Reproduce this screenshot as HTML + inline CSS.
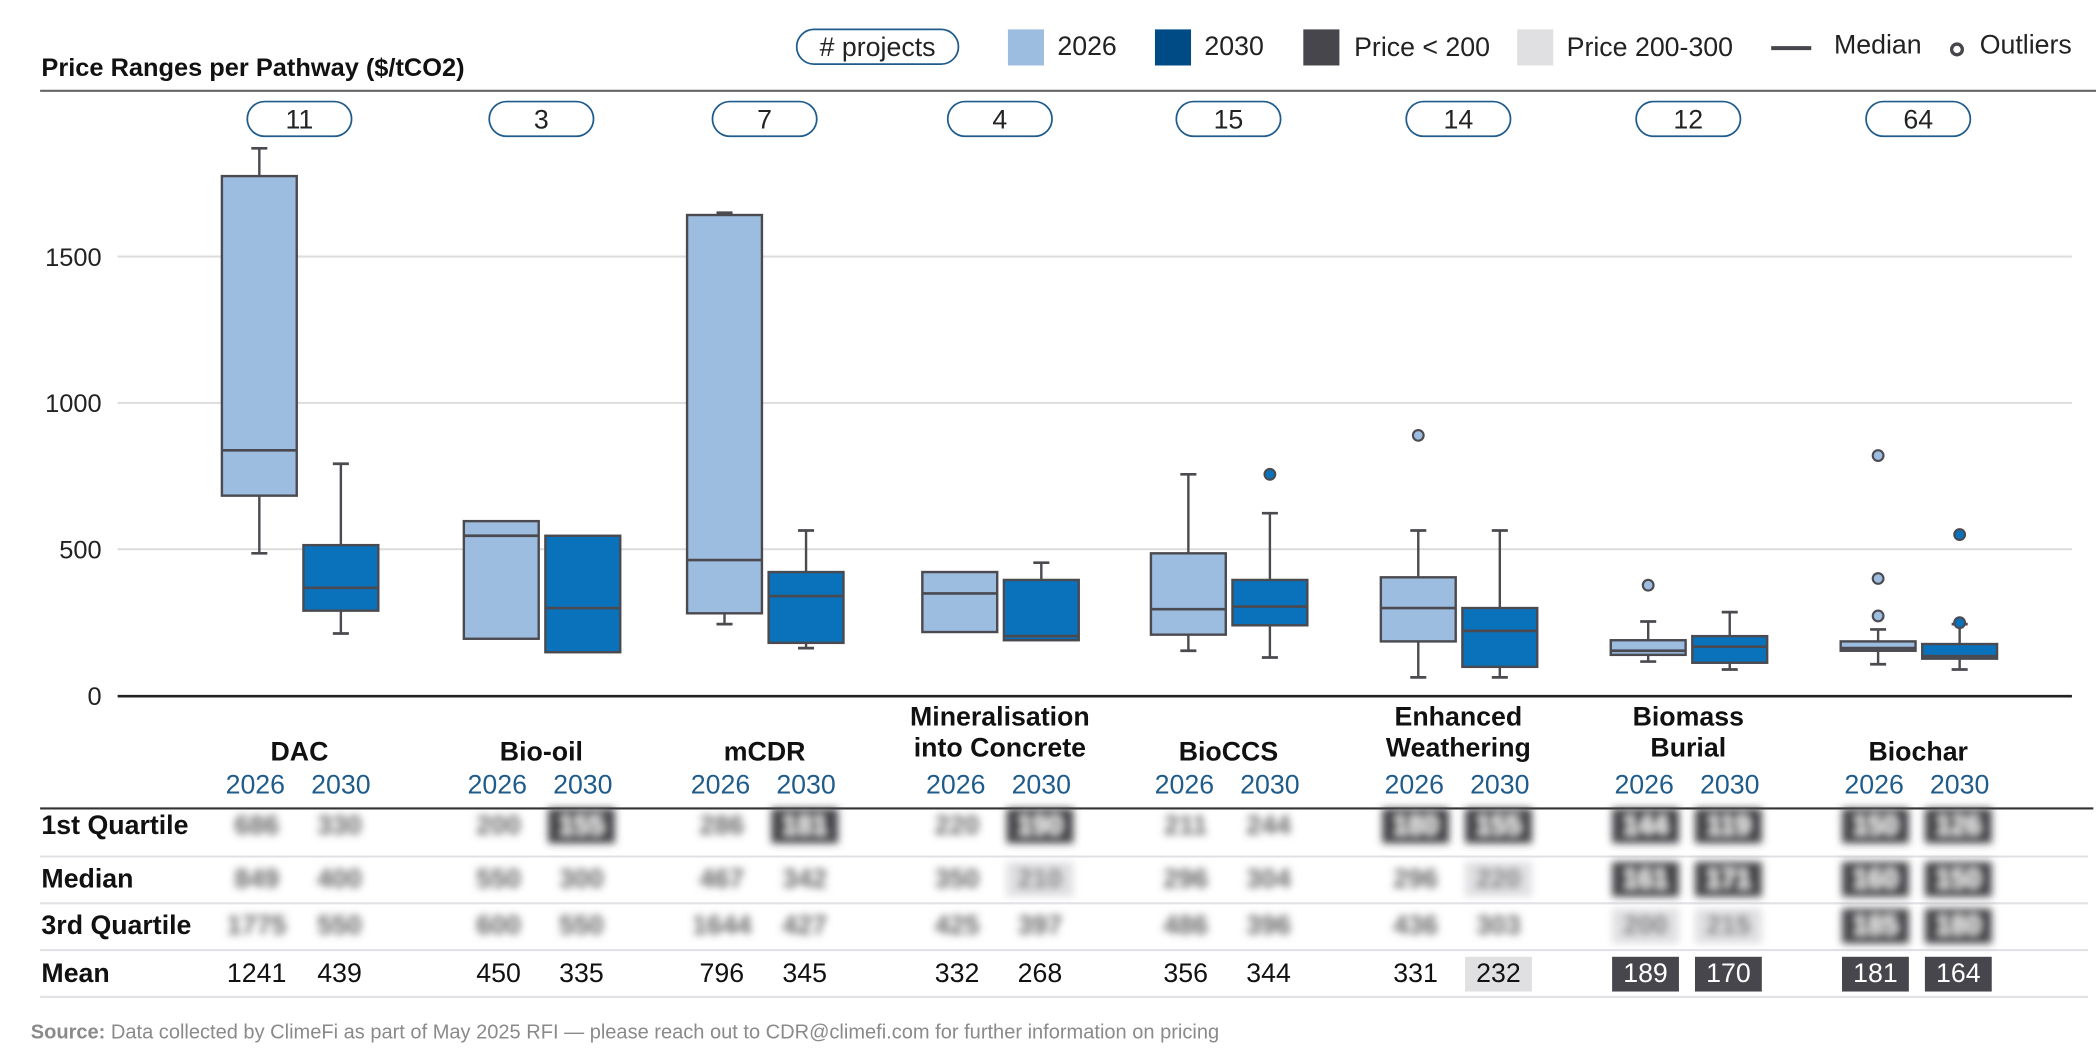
<!DOCTYPE html>
<html><head><meta charset="utf-8">
<style>
html,body{margin:0;padding:0;background:#fff;}
svg{display:block;font-family:"Liberation Sans",Arial,sans-serif;}
</style></head>
<body>
<svg id="chart" width="2096" height="1053" viewBox="0 0 1568 788" preserveAspectRatio="none" xmlns="http://www.w3.org/2000/svg">
<defs><filter id="blur" x="-30%" y="-50%" width="160%" height="200%"><feGaussianBlur stdDeviation="3"/></filter></defs>
<text x="31" y="57" font-size="19" font-weight="bold" fill="#111">Price Ranges per Pathway ($/tCO2)</text>
<g font-size="20" fill="#222">
  <rect x="596" y="22" width="121" height="26" rx="13" fill="#fff" stroke="#1f5c8c" stroke-width="1.3"/>
  <text x="656.5" y="42" text-anchor="middle"># projects</text>
  <rect x="754" y="22" width="27" height="27" fill="#9dbde0"/>
  <text x="791" y="41">2026</text>
  <rect x="864" y="22" width="27" height="27" fill="#004a86"/>
  <text x="901" y="41">2030</text>
  <rect x="975" y="22" width="27" height="27" fill="#46464c"/>
  <text x="1013" y="42">Price &lt; 200</text>
  <rect x="1135" y="22" width="27" height="27" fill="#e0e0e3"/>
  <text x="1172" y="42">Price 200-300</text>
  <line x1="1325" y1="36" x2="1355" y2="36" stroke="#46464c" stroke-width="3"/>
  <text x="1372" y="40">Median</text>
  <circle cx="1464" cy="37" r="4" fill="#fff" stroke="#46464c" stroke-width="2.5"/>
  <text x="1481" y="40">Outliers</text>
</g>
<line x1="30" y1="68" x2="1568" y2="68" stroke="#666" stroke-width="1.6"/>
<g id="plot"></g>
<text x="23" y="777" font-size="15" fill="#8a8a8a"><tspan font-weight="bold">Source:</tspan> Data collected by ClimeFi as part of May 2025 RFI — please reach out to CDR@climefi.com for further information on pricing</text>
</svg>
<script>
const categories = [["DAC"],["Bio-oil"],["mCDR"],["Mineralisation","into Concrete"],["BioCCS"],["Enhanced","Weathering"],["Biomass","Burial"],["Biochar"]];
const projectCounts = [11,3,7,4,15,14,12,64];
// [whiskerLow, q1, median, q3, whiskerHigh] per category; null whisker = none
const box2026 = [[486,683,838,1775,1870],[null,194,546,596,null],[244,281,463,1642,1650],[null,217,349,422,null],[153,208,295,486,756],[62,185,299,404,564],[116,139,153,189,253],[107,153,162,185,226]];
const box2030 = [[212,290,368,514,792],[null,148,299,546,null],[162,180,340,422,564],[null,189,203,395,454],[130,240,304,395,623],[62,98,221,299,564],[89,112,167,203,285],[89,126,135,176,244]];
const outliers2026 = [[],[],[],[],[],[889],[377],[820,400,272]];
const outliers2030 = [[],[],[],[],[756],[],[],[550,249]];
const q1Row = [[686,330],[200,155],[286,181],[220,190],[211,244],[180,155],[144,119],[150,126]];
const medRow = [[849,400],[550,300],[467,342],[350,210],[296,304],[296,220],[161,171],[160,150]];
const q3Row = [[1775,550],[600,550],[1644,427],[425,397],[486,396],[436,303],[200,215],[185,180]];
const meanRow = [[1241,439],[450,335],[796,345],[332,268],[356,344],[331,232],[189,170],[181,164]];
const q1Shade = [["",""],["","low"],["","low"],["","low"],["",""],["low","low"],["low","low"],["low","low"]];
const medShade = [["",""],["",""],["",""],["","mid"],["",""],["","mid"],["low","low"],["low","low"]];
const q3Shade = [["",""],["",""],["",""],["",""],["",""],["",""],["mid","mid"],["low","low"]];
const meanShade = [["",""],["",""],["",""],["",""],["",""],["","mid"],["low","low"],["low","low"]];
const yTicks = [0,500,1000,1500];

const NS="http://www.w3.org/2000/svg";
const plot=document.getElementById('plot');
const centers=[224,405,572,748,919,1091,1263,1435];
const yS=v=>520.5-v*0.219;
function mk(tag,attrs,parent,text){const e=document.createElementNS(NS,tag);for(const k in attrs)e.setAttribute(k,attrs[k]);if(text!==undefined)e.textContent=text;(parent||plot).appendChild(e);return e;}

yTicks.forEach(t=>{
  if(t>0){const g=mk('line',{x1:88,x2:1550,y1:yS(t),y2:yS(t),stroke:'#dedede','stroke-width':1.6});
  
  }
  const l=mk('text',{x:76,y:yS(t)+7,'text-anchor':'end','font-size':19,fill:'#222'},plot,String(t));
  
  
});
const ax=mk('line',{x1:88,x2:1550,y1:521,y2:521,stroke:'#222','stroke-width':2});



function drawBox(cx,b,fill,out,name){
  const w=56,x=cx-w/2,st='#4a4a50';
  const g=mk('g',{});
  
  
  if(b[4]!=null){mk('line',{x1:cx,x2:cx,y1:yS(b[4]),y2:yS(b[3]),stroke:st,'stroke-width':1.8},g);mk('line',{x1:cx-6,x2:cx+6,y1:yS(b[4]),y2:yS(b[4]),stroke:st,'stroke-width':2},g);}
  if(b[0]!=null){mk('line',{x1:cx,x2:cx,y1:yS(b[1]),y2:yS(b[0]),stroke:st,'stroke-width':1.8},g);mk('line',{x1:cx-6,x2:cx+6,y1:yS(b[0]),y2:yS(b[0]),stroke:st,'stroke-width':2},g);}
  mk('rect',{x:x,y:yS(b[3]),width:w,height:yS(b[1])-yS(b[3]),fill:fill,stroke:st,'stroke-width':1.8},g);
  mk('line',{x1:x,x2:x+w,y1:yS(b[2]),y2:yS(b[2]),stroke:st,'stroke-width':2},g);
  out.forEach(o=>{const c=mk('circle',{cx:cx,cy:yS(o),r:4,fill:fill,stroke:st,'stroke-width':1.6},g);
    
    });
}

categories.forEach((cat,i)=>{
  const c=centers[i];
  const p=mk('rect',{x:c-39,y:76,width:78,height:26,rx:13,fill:'#fff',stroke:'#1f5c8c','stroke-width':1.3});
  
  
  const pt=mk('text',{x:c,y:96,'text-anchor':'middle','font-size':20,fill:'#222'},plot,String(projectCounts[i]));
  
  
  drawBox(c-30,box2026[i],'#9dbde0',outliers2026[i],'box-2026-'+i);
  drawBox(c+31,box2030[i],'#0a72bb',outliers2030[i],'box-2030-'+i);
  const ys=cat.length===1?[569]:[543,566];
  cat.forEach((ln,k)=>{const t=mk('text',{x:c,y:ys[k],'text-anchor':'middle','font-size':20,'font-weight':'bold',fill:'#111'},plot,ln);
    
    });
  ['2026','2030'].forEach((yr,k)=>{const t=mk('text',{x:c-33+k*64,y:594,'text-anchor':'middle','font-size':20,fill:'#1f5c8c'},plot,yr);
    
    });
});

const tl=mk('line',{x1:30,x2:1566,y1:605,y2:605,stroke:'#333','stroke-width':1.6});


const rowLabels=['1st Quartile','Median','3rd Quartile','Mean'];
const rowY=[624,664,699,735];
const sepY=[641,676,711,746];
rowLabels.forEach((r,i)=>{
  const t=mk('text',{x:31,y:rowY[i],'font-size':20,'font-weight':'bold',fill:'#111'},plot,r);
  
  
  const s=mk('line',{x1:30,x2:1562,y1:sepY[i],y2:sepY[i],stroke:'#e2e2e6','stroke-width':1.6});
  
  
});
function cell(x,y,v,shade,blur,name){
  const g=mk('g',blur?{filter:'url(#blur)'}:{});
  
  
  if(shade) mk('rect',{x:x-25,y:y-19,width:50,height:26,fill:shade==='low'?'#46464c':'#e0e0e3'},g);
  mk('text',{x:x,y:y,'text-anchor':'middle','font-size':20,'font-weight':blur?'bold':'normal',fill:shade==='low'?'#fff':(blur?'#666':'#111')},g,String(v));
}
const blurRows=[q1Row,medRow,q3Row];
const blurShades=[q1Shade,medShade,q3Shade];
categories.forEach((c,i)=>{
  const xs=[centers[i]-32,centers[i]+30];
  blurRows.forEach((row,r)=>{row[i].forEach((v,k)=>cell(xs[k],rowY[r],v,blurShades[r][i][k],true,'table-cell'));});
  meanRow[i].forEach((v,k)=>cell(xs[k],rowY[3],v,meanShade[i][k],false,'mean-cell'));
});
</script>
</body></html>
